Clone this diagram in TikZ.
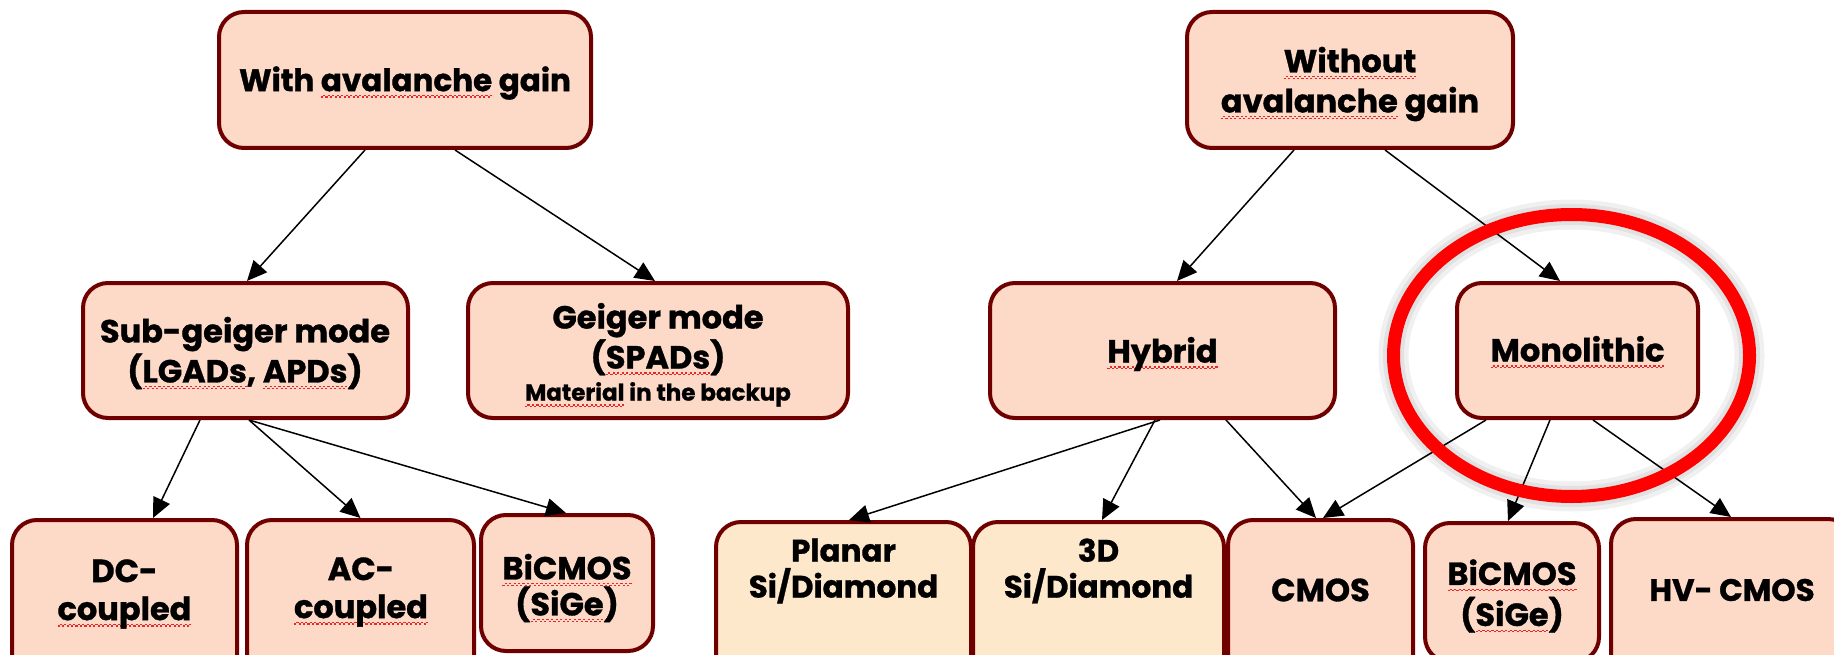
\documentclass[tikz,border=0pt]{standalone}
\usepackage{fontspec}
\setmainfont{Poppins}[BoldFeatures={FakeBold=1}]
\usetikzlibrary{arrows.meta}

\definecolor{boxline}{RGB}{112,0,0}
\definecolor{boxfill}{RGB}{253,218,200}
\definecolor{boxcream}{RGB}{254,232,204}
\definecolor{ringred}{RGB}{255,0,0}
\definecolor{spellred}{RGB}{232,40,40}

% red wavy spell-check underline under a word
\newsavebox\sqword
\newcommand\sq[1]{\sbox\sqword{#1}\leavevmode\rlap{\textcolor{spellred}{\hbox to \wd\sqword{\xleaders\hbox{\rule[-6.5pt]{2.2pt}{1.3pt}\rule[-5pt]{2.2pt}{1.3pt}}\hfil}}}\usebox\sqword}

\begin{document}
\begin{tikzpicture}[x=1pt,y=-1pt,
  box/.style={draw=boxline, fill=boxfill, line width=4pt, rounded corners=25pt, inner sep=0pt},
  cream/.style={box, fill=boxcream},
  lbl/.style={align=center, font=\bfseries\fontsize{32}{40}\selectfont, inner sep=0pt},
  arr/.style={-{Triangle[length=20pt,width=18pt]}, line width=1.5pt},
  ring/.style={x radius=178pt, y radius=141pt},
]
\clip (0,0) rectangle (1834,655);
\fill[white] (0,0) rectangle (1834,655);

% top level
\node[box, minimum width=372pt, minimum height=136pt] (with) at (405,80) {};
\node[box, minimum width=326pt, minimum height=136pt] (without) at (1350,80) {};

% middle level
\node[box, minimum width=325pt, minimum height=135pt] (sub) at (245.5,350.5) {};
\node[box, minimum width=380pt, minimum height=135pt] (geiger) at (658,350.5) {};
\node[box, minimum width=345pt, minimum height=135pt] (hybrid) at (1162.5,350.5) {};
\node[box, minimum width=241pt, minimum height=135pt] (mono) at (1577.5,350.5) {};

% bottom level
\node[box, minimum width=225pt, minimum height=160pt] (dc) at (124.5,600) {};
\node[box, minimum width=227pt, minimum height=160pt] (ac) at (360.5,600) {};
\node[box, minimum width=172pt, minimum height=136pt] (bicl) at (567,583) {};
\node[cream, minimum width=255pt, minimum height=158pt] (planar) at (843.5,601) {};
\node[cream, minimum width=251pt, minimum height=158pt] (threed) at (1098.5,601) {};
\node[box, minimum width=185pt, minimum height=160pt] (cmos) at (1320.5,600) {};
\node[box, minimum width=174pt, minimum height=139pt] (bicr) at (1512,592.5) {};
\node[box, minimum width=242pt, minimum height=161pt] (hv) at (1732,599.5) {};

% labels
\node[lbl, font=\bfseries\fontsize{31}{40}\selectfont] (with-t) at (405,83) {With \sq{avalanche} gain};
\node[lbl] (without-t) at (1350,84) {\sq{Without}\\\sq{avalanche} gain};
\node[lbl] (sub-t) at (245,353) {Sub-geiger mode\\(\sq{LGADs}, \sq{APDs})};
\node[lbl] (geiger-t) at (658,355) {Geiger mode\\(\sq{SPADs})\\[-8pt]{\fontsize{23}{26}\selectfont\sq{Material} in the backup}};
\node[lbl] (hybrid-t) at (1162.5,354) {\sq{Hybrid}};
\node[lbl] (mono-t) at (1577.5,352) {\sq{Monolithic}};
\node[lbl, font=\bfseries\fontsize{32}{38}\selectfont] (dc-t) at (124.5,594) {DC-\\\sq{coupled}};
\node[lbl, font=\bfseries\fontsize{32}{38}\selectfont] (ac-t) at (361,592) {AC-\\\sq{coupled}};
\node[lbl, font=\bfseries\fontsize{32}{36}\selectfont] (bicl-t) at (567,588) {\sq{BiCMOS}\\(\sq{SiGe})};
\node[lbl, font=\bfseries\fontsize{31}{36}\selectfont] (planar-t) at (843.5,571) {Planar\\Si/Diamond};
\node[lbl, font=\bfseries\fontsize{31}{36}\selectfont] (threed-t) at (1098.5,571) {3D\\Si/Diamond};
\node[lbl] (cmos-t) at (1320.5,590) {CMOS};
\node[lbl, font=\bfseries\fontsize{32}{41}\selectfont] (bicr-t) at (1512,596) {\sq{BiCMOS}\\(\sq{SiGe})};
\node[lbl, font=\bfseries\fontsize{31}{40}\selectfont] (hv-t) at (1732,590) {HV- CMOS};

% connectors
\draw[arr] ([xshift=-40pt]with.south) -- ([xshift=1.5pt]sub.north);
\draw[arr] ([xshift=50pt]with.south) -- ([xshift=-3pt]geiger.north);
\draw[arr] ([xshift=-56pt]without.south) -- ([xshift=14.5pt]hybrid.north);
\draw[arr] ([xshift=35pt]without.south) -- ([xshift=-17.5pt]mono.north);
\draw[arr] ([xshift=-45.5pt]sub.south) -- ([xshift=28.5pt]dc.north);
\draw[arr] ([xshift=3.5pt]sub.south) -- (ac.north);
\draw[arr] ([xshift=3.5pt]sub.south) -- ([xshift=-1pt]bicl.north);
\draw[arr] ([xshift=-2.5pt]hybrid.south) -- ([xshift=5.5pt]planar.north);
\draw[arr] ([xshift=-7.5pt]hybrid.south) -- ([xshift=3.5pt]threed.north);
\draw[arr] ([xshift=63.5pt]hybrid.south) -- ([xshift=-4.5pt]cmos.north);
\draw[arr] ([xshift=-91.5pt]mono.south) -- ([xshift=2.5pt]cmos.north);
\draw[arr] ([xshift=-27.5pt]mono.south) -- ([xshift=-4pt]bicr.north);
\draw[arr] ([xshift=15.5pt]mono.south) -- ([xshift=-1pt]hv.north);

% highlight ring round the monolithic branch, with a soft halo
\draw[black, opacity=0.06, line width=30pt] (mono.center) ++(-6pt,5) ellipse [ring];
\draw[black, opacity=0.06, line width=21pt] (mono.center) ++(-6pt,5) ellipse [ring];
\draw[ringred, line width=13pt] (mono.center) ++(-6pt,5) ellipse [ring];
\end{tikzpicture}
\end{document}
